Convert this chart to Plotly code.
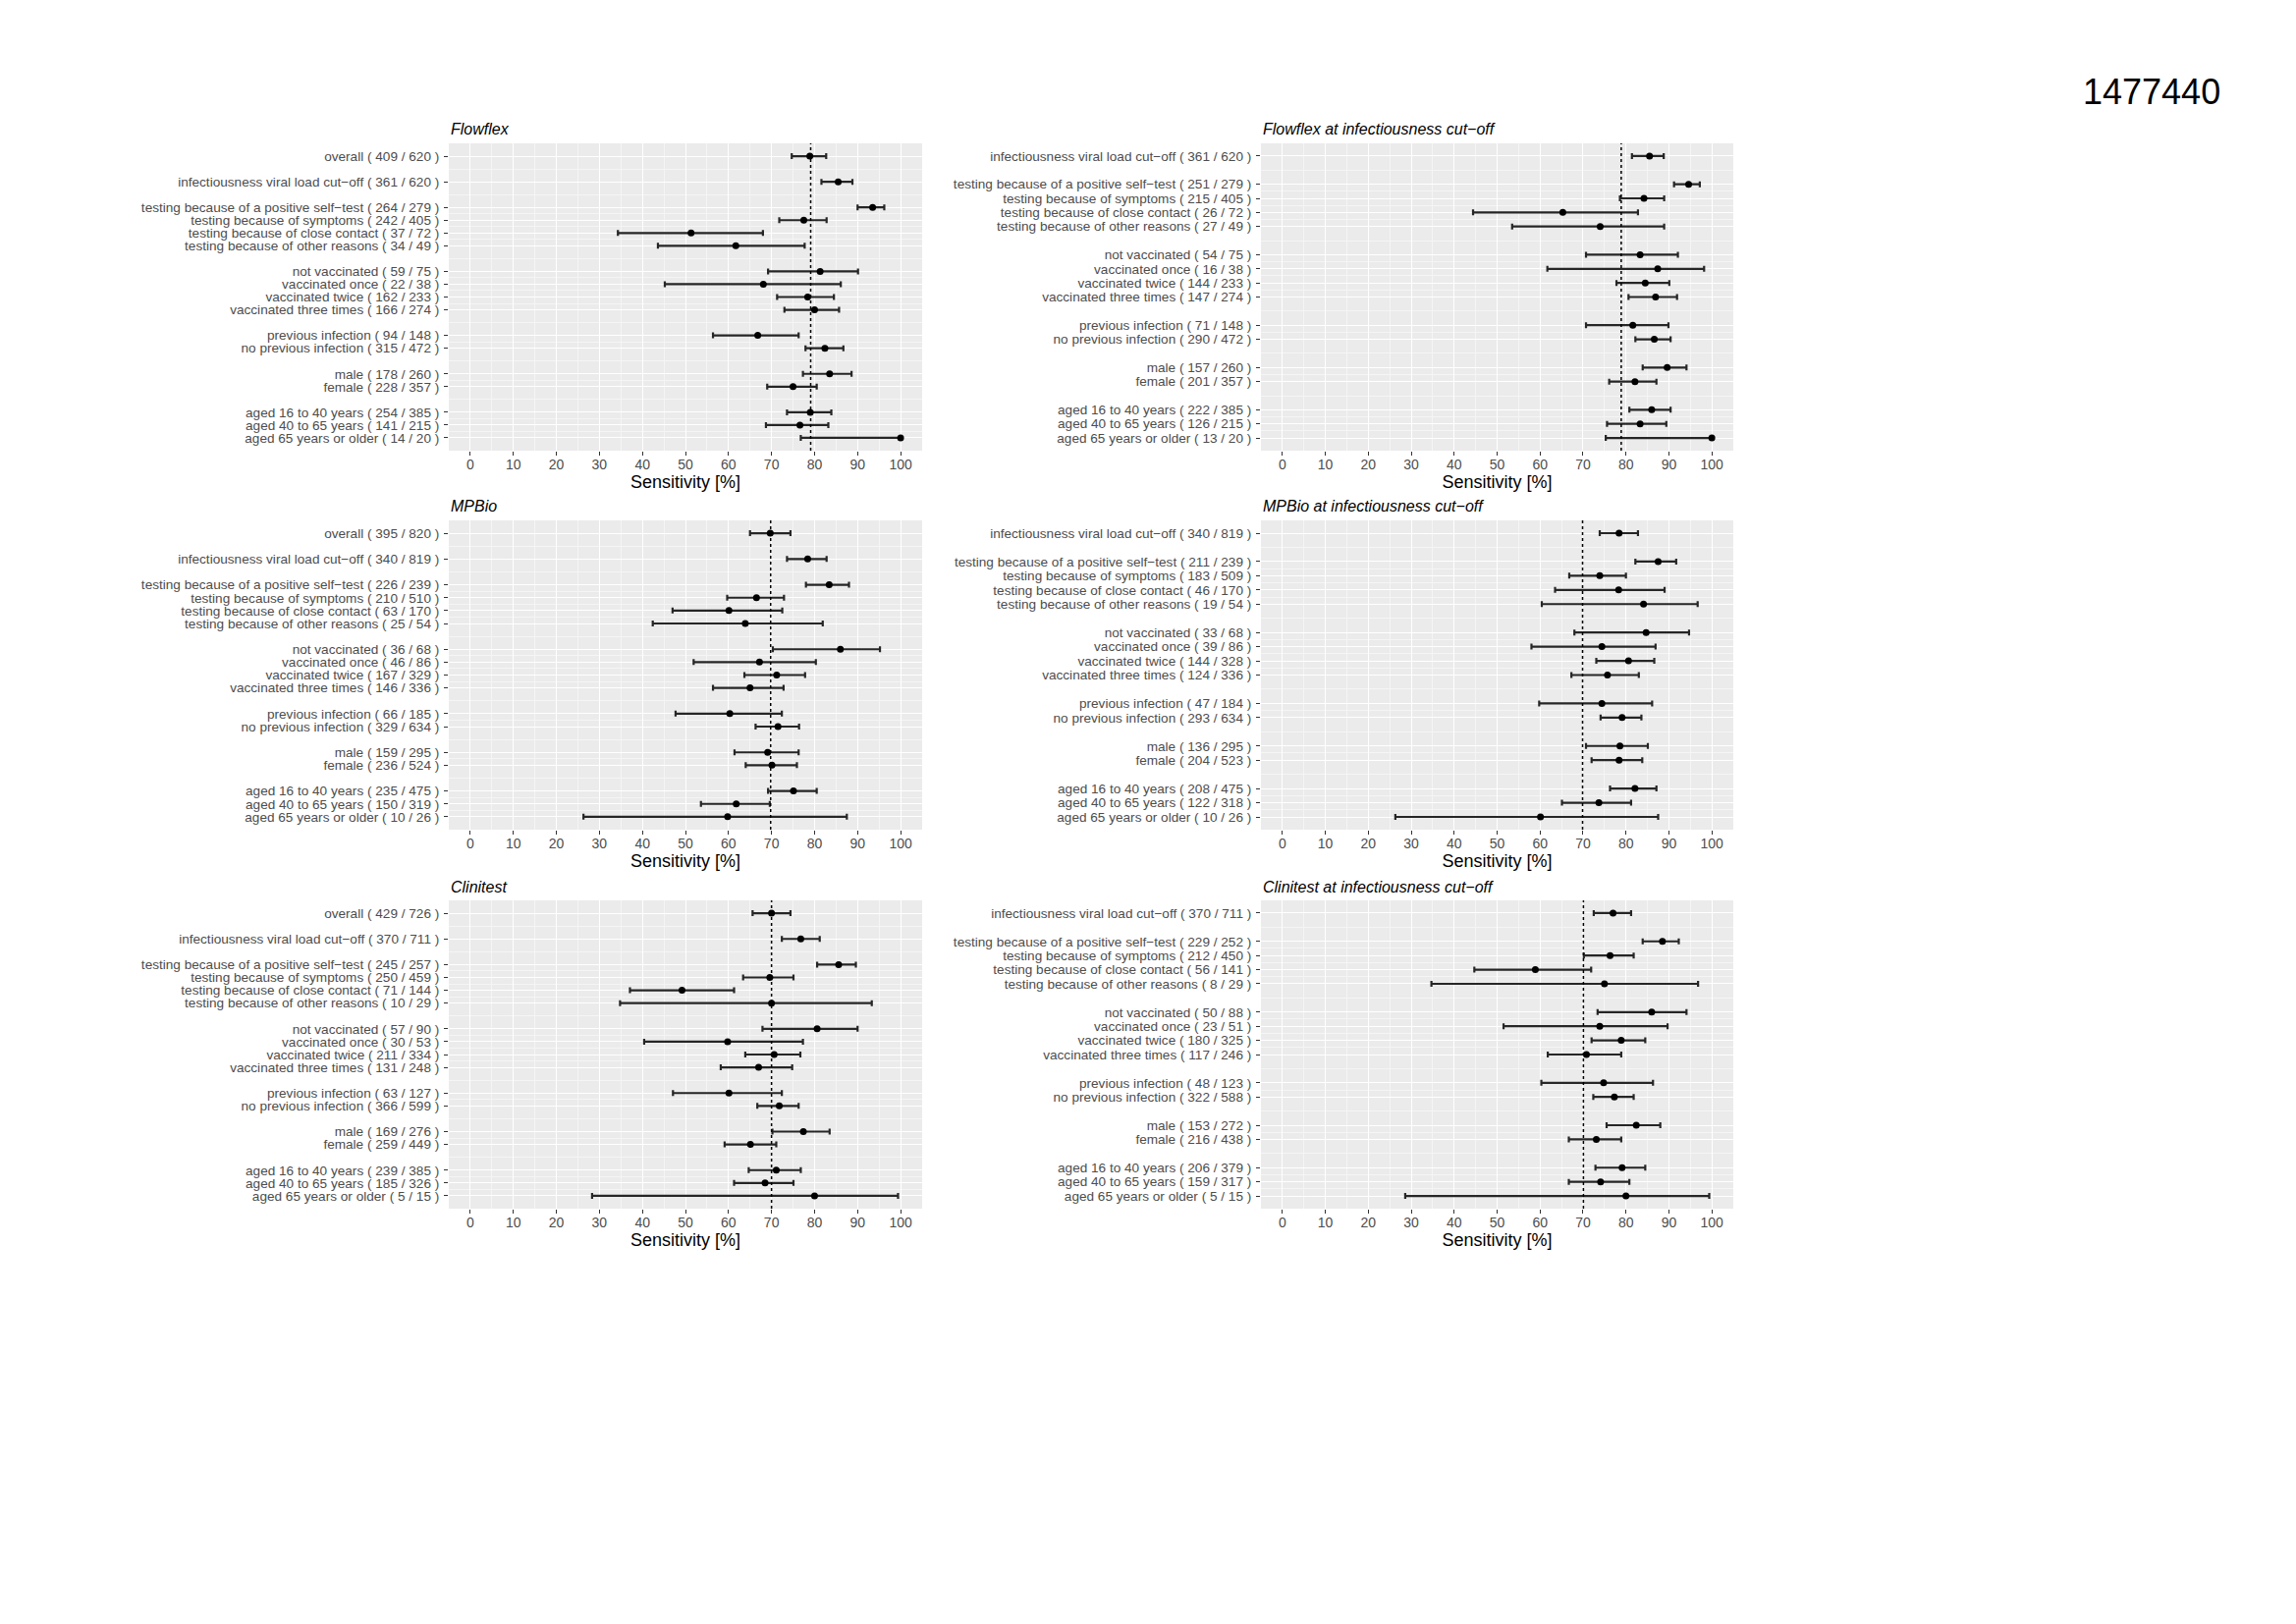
import plotly.graph_objects as go

# category groups (a blank row is left between groups)
groups_all = [
    ["overall"],
    ["infectiousness viral load cut\u2212off"],
    ["testing because of a positive self\u2212test", "testing because of symptoms",
     "testing because of close contact", "testing because of other reasons"],
    ["not vaccinated", "vaccinated once", "vaccinated twice", "vaccinated three times"],
    ["previous infection", "no previous infection"],
    ["male", "female"],
    ["aged 16 to 40 years", "aged 40 to 65 years", "aged 65 years or older"],
]
groups_cut = groups_all[1:]

# Flowflex
flowflex_pos = [409, 361, 264, 242, 37, 34, 59, 22, 162, 166, 94, 315, 178, 228, 254, 141, 14]
flowflex_tot = [620, 620, 279, 405, 72, 49, 75, 38, 233, 274, 148, 472, 260, 357, 385, 215, 20]
flowflex_sens = [78.9, 85.5, 93.5, 77.5, 51.3, 61.7, 81.3, 68.1, 78.4, 80.0, 66.8, 82.4, 83.5, 75.0, 79.0, 76.6, 100.0]
flowflex_lo = [74.7, 81.6, 90.0, 71.8, 34.3, 43.6, 69.2, 45.2, 71.3, 73.0, 56.4, 77.9, 77.3, 69.0, 73.6, 68.7, 76.8]
flowflex_hi = [82.7, 88.8, 96.2, 82.8, 68.0, 77.7, 90.1, 86.1, 84.5, 85.7, 76.3, 86.7, 88.6, 80.5, 83.9, 83.2, 100.0]

# Flowflex at infectiousness cut-off
flowflex_cut_pos = [361, 251, 215, 26, 27, 54, 16, 144, 147, 71, 290, 157, 201, 222, 126, 13]
flowflex_cut_tot = [620, 279, 405, 72, 49, 75, 38, 233, 274, 148, 472, 260, 357, 385, 215, 20]
flowflex_cut_sens = [85.5, 94.6, 84.2, 65.3, 74.0, 83.3, 87.4, 84.5, 86.9, 81.6, 86.6, 89.6, 82.1, 86.0, 83.3, 100.0]
flowflex_cut_lo = [81.4, 91.2, 78.6, 44.4, 53.5, 70.7, 61.7, 77.8, 80.6, 70.7, 82.2, 83.9, 76.1, 80.8, 75.6, 75.3]
flowflex_cut_hi = [88.8, 97.2, 88.9, 82.8, 88.9, 92.1, 98.2, 90.1, 91.9, 89.9, 90.4, 94.1, 87.1, 90.4, 89.4, 100.0]

# MPBio
mpbio_pos = [395, 340, 226, 210, 63, 25, 36, 46, 167, 146, 66, 329, 159, 236, 235, 150, 10]
mpbio_tot = [820, 819, 239, 510, 170, 54, 68, 86, 329, 336, 185, 634, 295, 524, 475, 319, 26]
mpbio_sens = [69.7, 78.4, 83.4, 66.5, 60.1, 63.9, 86.0, 67.2, 71.2, 65.0, 60.3, 71.5, 69.1, 70.1, 75.1, 61.8, 59.8]
mpbio_lo = [65.0, 73.6, 78.0, 59.7, 47.0, 42.4, 70.3, 51.9, 63.7, 56.4, 47.7, 66.3, 61.4, 64.0, 69.2, 53.6, 26.3]
mpbio_hi = [74.4, 82.8, 88.0, 72.9, 72.5, 81.9, 95.2, 80.3, 77.8, 72.8, 72.4, 76.4, 76.3, 75.9, 80.5, 69.6, 87.5]

# MPBio at infectiousness cut-off
mpbio_cut_pos = [340, 211, 183, 46, 19, 33, 39, 144, 124, 47, 293, 136, 204, 208, 122, 10]
mpbio_cut_tot = [819, 239, 509, 170, 54, 68, 86, 328, 336, 184, 634, 295, 523, 475, 318, 26]
mpbio_cut_sens = [78.4, 87.5, 73.9, 78.3, 84.1, 84.7, 74.4, 80.6, 75.7, 74.4, 79.1, 78.6, 78.4, 82.1, 73.7, 60.1]
mpbio_cut_lo = [73.9, 82.2, 66.8, 63.5, 60.4, 68.0, 58.0, 73.1, 67.3, 59.8, 74.1, 70.7, 72.0, 76.3, 65.1, 26.3]
mpbio_cut_hi = [82.8, 91.7, 80.0, 89.0, 96.7, 94.7, 86.9, 86.6, 83.0, 86.1, 83.6, 85.1, 83.8, 87.1, 81.2, 87.5]

# Clinitest
clinitest_pos = [429, 370, 245, 250, 71, 10, 57, 30, 211, 131, 63, 366, 169, 259, 239, 185, 5]
clinitest_tot = [726, 711, 257, 459, 144, 29, 90, 53, 334, 248, 127, 599, 276, 449, 385, 326, 15]
clinitest_sens = [70.0, 76.8, 85.6, 69.6, 49.2, 70.0, 80.6, 59.8, 70.6, 67.0, 60.1, 71.8, 77.4, 65.1, 71.1, 68.5, 80.0]
clinitest_lo = [65.6, 72.4, 80.6, 63.4, 37.1, 34.8, 67.9, 40.4, 63.9, 58.2, 47.1, 66.7, 70.2, 59.1, 64.7, 61.3, 28.3]
clinitest_hi = [74.4, 81.2, 89.6, 75.1, 61.3, 93.3, 90.0, 77.3, 76.7, 74.8, 72.4, 76.3, 83.5, 71.1, 76.8, 75.1, 99.4]

# Clinitest at infectiousness cut-off
clinitest_cut_pos = [370, 229, 212, 56, 8, 50, 23, 180, 117, 48, 322, 153, 216, 206, 159, 5]
clinitest_cut_tot = [711, 252, 450, 141, 29, 88, 51, 325, 246, 123, 588, 272, 438, 379, 317, 15]
clinitest_cut_sens = [77.0, 88.5, 76.3, 58.9, 75.0, 86.0, 73.9, 78.9, 70.8, 74.8, 77.3, 82.4, 73.1, 79.1, 74.1, 80.0]
clinitest_cut_lo = [72.5, 83.9, 70.2, 44.7, 34.7, 73.4, 51.5, 72.0, 61.8, 60.3, 72.4, 75.5, 66.7, 72.9, 66.7, 28.6]
clinitest_cut_hi = [81.2, 92.3, 81.8, 71.9, 96.8, 94.1, 89.7, 84.5, 78.9, 86.3, 81.8, 88.0, 78.9, 84.5, 80.8, 99.4]

# reference (overall) sensitivity drawn as a dotted line
ref_lines = [79.1, 78.9, 69.8, 69.9, 70.0, 70.1]

titles = ["Flowflex", "Flowflex at infectiousness cut\u2212off",
          "MPBio", "MPBio at infectiousness cut\u2212off",
          "Clinitest", "Clinitest at infectiousness cut\u2212off"]

panels = [
    (groups_all, flowflex_pos, flowflex_tot, flowflex_sens, flowflex_lo, flowflex_hi),
    (groups_cut, flowflex_cut_pos, flowflex_cut_tot, flowflex_cut_sens, flowflex_cut_lo, flowflex_cut_hi),
    (groups_all, mpbio_pos, mpbio_tot, mpbio_sens, mpbio_lo, mpbio_hi),
    (groups_cut, mpbio_cut_pos, mpbio_cut_tot, mpbio_cut_sens, mpbio_cut_lo, mpbio_cut_hi),
    (groups_all, clinitest_pos, clinitest_tot, clinitest_sens, clinitest_lo, clinitest_hi),
    (groups_cut, clinitest_cut_pos, clinitest_cut_tot, clinitest_cut_sens, clinitest_cut_lo, clinitest_cut_hi),
]

W, H = 2338, 1654
OFF = 8  # page body margin
FONT = "Liberation Sans, Arial, sans-serif"

# panel boxes in page pixels (left, right) and (top, bottom)
col_x = [(457, 939), (1284, 1765)]
row_y = [(146, 459), (530, 845), (917, 1231)]


def fx(px):
    return (px - OFF) / W


def fy(py):
    return 1 - (py - OFF) / H


def row_positions(groups):
    pos, out, names = 0, [], []
    for g in groups:
        for name in g:
            out.append(pos)
            names.append(name)
            pos += 1
        pos += 1
    return out, names


fig = go.Figure()

for i, (groups, npos, ntot, sens, lo, hi) in enumerate(panels):
    r, c = divmod(i, 2)
    ax = "" if i == 0 else str(i + 1)
    xl, xr = col_x[c]
    yt, yb = row_y[r]
    ys, names = row_positions(groups)
    labels = [f"{n} ( {p} / {t} )" for n, p, t in zip(names, npos, ntot)]
    minor_y = [(a + b) / 2 for a, b in zip(ys[:-1], ys[1:])]
    pad = 1.0 if len(ys) > 16 else 0.9
    top = ys[-1] + pad
    bot = -pad

    fig.add_trace(go.Scatter(
        x=sens, y=ys, mode="markers", xaxis="x" + ax, yaxis="y" + ax,
        marker=dict(color="black", size=7),
        error_x=dict(type="data", symmetric=False,
                     array=[h - s for h, s in zip(hi, sens)],
                     arrayminus=[s - l for s, l in zip(sens, lo)],
                     color="#262626", thickness=2.2, width=3),
        hoverinfo="skip", showlegend=False))

    fig.update_layout(**{
        "xaxis" + ax: dict(
            domain=[fx(xl), fx(xr)], anchor="y" + ax, range=[-5, 105],
            tickvals=list(range(0, 101, 10)), ticks="outside", ticklen=4,
            ticklabelstandoff=-3,
            tickcolor="#333333", tickfont=dict(size=14, color="#4d4d4d", family=FONT),
            showgrid=True, gridcolor="white", gridwidth=1.4, zeroline=False,
            minor=dict(tickvals=list(range(-5, 106, 10)), showgrid=True,
                       gridcolor="#f5f5f5", gridwidth=0.7, ticklen=0),
            title=dict(text="Sensitivity [%]", standoff=0,
                       font=dict(size=18, color="black", family=FONT)),
        ),
        "yaxis" + ax: dict(
            domain=[fy(yb), fy(yt)], anchor="x" + ax, range=[top, bot],
            tickmode="array", tickvals=ys, ticktext=labels, ticks="outside",
            ticklen=4, tickcolor="#333333", ticklabelstandoff=2,
            tickfont=dict(size=13.6, color="#4d4d4d", family=FONT),
            showgrid=True, gridcolor="white", gridwidth=1.4, zeroline=False,
            minor=dict(tickvals=minor_y, showgrid=True,
                       gridcolor="#f5f5f5", gridwidth=0.7, ticklen=0),
        ),
    })

    fig.add_shape(type="line", xref="x" + ax, yref="y" + ax + " domain",
                  x0=ref_lines[i], x1=ref_lines[i], y0=0, y1=1,
                  line=dict(color="black", width=1.5, dash="dot"))

    fig.add_annotation(text=f"<i>{titles[i]}</i>", xref="paper", yref="paper",
                       x=fx(xl), y=fy(yt - 14), xanchor="left", yanchor="middle",
                       showarrow=False, font=dict(size=16, color="black", family=FONT))

fig.add_annotation(text="1477440", xref="paper", yref="paper",
                   x=fx(2191), y=fy(93), xanchor="center", yanchor="middle",
                   showarrow=False, font=dict(size=36, color="black", family=FONT))

fig.update_layout(width=W, height=H, margin=dict(l=0, r=0, t=0, b=0),
                  paper_bgcolor="white", plot_bgcolor="#EBEBEB", showlegend=False)

fig.write_html("out.html")
